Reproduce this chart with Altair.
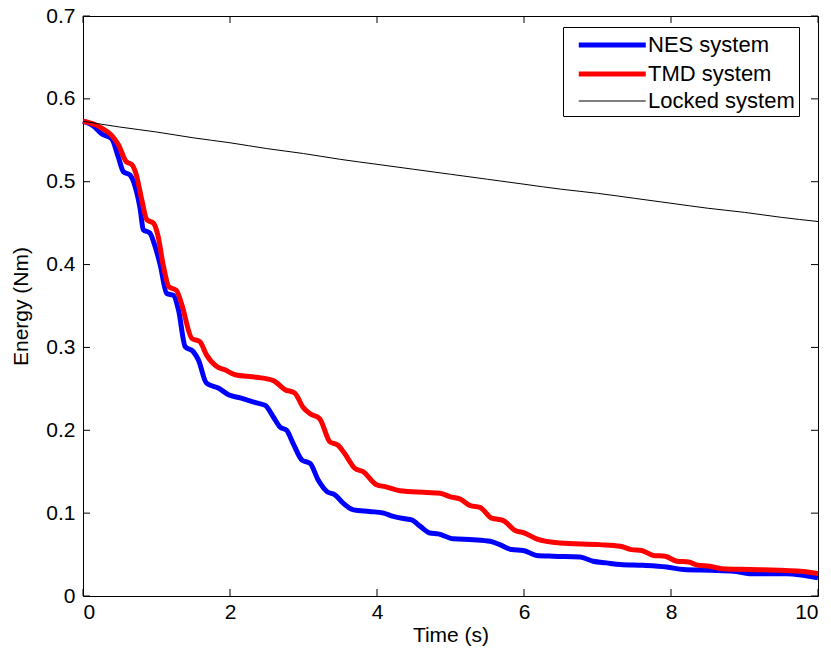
import altair as alt
import pandas as pd

# ---- data ----
t_nes = [0, 0.16, 0.25, 0.39, 0.48, 0.55, 0.64, 0.71, 0.78, 0.82, 0.91, 0.98, 1.05, 1.14, 1.23, 1.30,
         1.39, 1.50, 1.57, 1.68, 1.84, 1.98, 2.14, 2.36, 2.48, 2.59, 2.68, 2.77, 2.86, 2.98, 3.09, 3.20,
         3.32, 3.43, 3.54, 3.68, 3.90, 4.09, 4.22, 4.40, 4.47, 4.59, 4.72, 4.83, 5.04, 5.31, 5.54, 5.67,
         5.83, 5.99, 6.17, 6.40, 6.76, 6.94, 7.12, 7.31, 7.62, 7.94, 8.17, 8.53, 8.85, 9.07, 9.57, 9.80, 10.0]
e_nes = [0.573, 0.566, 0.558, 0.552, 0.530, 0.512, 0.508, 0.494, 0.466, 0.442, 0.438, 0.422, 0.400, 0.365,
         0.363, 0.345, 0.301, 0.295, 0.285, 0.257, 0.251, 0.243, 0.239, 0.233, 0.230, 0.216, 0.204, 0.200,
         0.184, 0.164, 0.160, 0.140, 0.126, 0.122, 0.112, 0.104, 0.102, 0.100, 0.096, 0.093, 0.092, 0.084,
         0.076, 0.075, 0.069, 0.068, 0.066, 0.062, 0.056, 0.055, 0.049, 0.048, 0.047, 0.042, 0.040, 0.038,
         0.037, 0.035, 0.032, 0.031, 0.030, 0.027, 0.027, 0.025, 0.022]

t_tmd = [0, 0.16, 0.25, 0.39, 0.48, 0.59, 0.66, 0.72, 0.80, 0.87, 0.96, 1.02, 1.09, 1.17, 1.27, 1.34,
         1.48, 1.59, 1.68, 1.82, 1.93, 2.07, 2.36, 2.59, 2.75, 2.88, 3.00, 3.09, 3.22, 3.36, 3.47, 3.56,
         3.70, 3.81, 4.00, 4.11, 4.31, 4.68, 4.86, 4.99, 5.13, 5.27, 5.40, 5.56, 5.72, 5.88, 6.01, 6.17,
         6.49, 7.03, 7.31, 7.46, 7.60, 7.76, 7.92, 8.08, 8.24, 8.37, 8.53, 8.69, 9.07, 9.48, 9.76, 10.0]
e_tmd = [0.573, 0.569, 0.565, 0.556, 0.545, 0.524, 0.521, 0.510, 0.478, 0.454, 0.450, 0.435, 0.400, 0.373,
         0.369, 0.353, 0.311, 0.307, 0.291, 0.277, 0.273, 0.267, 0.264, 0.260, 0.249, 0.245, 0.227, 0.220,
         0.214, 0.186, 0.182, 0.172, 0.154, 0.150, 0.134, 0.132, 0.127, 0.125, 0.124, 0.120, 0.117, 0.109,
         0.107, 0.094, 0.091, 0.079, 0.076, 0.069, 0.064, 0.062, 0.060, 0.056, 0.055, 0.049, 0.048, 0.042,
         0.041, 0.037, 0.036, 0.033, 0.032, 0.031, 0.030, 0.027]

t_locked = [0, 0.5, 1, 1.5, 2, 2.5, 3, 3.5, 4, 4.5, 5, 5.5, 6, 6.5, 7, 7.5, 8, 8.5, 9, 9.5, 10]
e_locked = [0.573, 0.566, 0.560, 0.553, 0.547, 0.540, 0.534, 0.527, 0.521, 0.515, 0.509, 0.503, 0.497,
            0.491, 0.486, 0.480, 0.474, 0.468, 0.463, 0.457, 0.452]

series = ["NES system", "TMD system", "Locked system"]
colors = ["#0000ff", "#ff0000", "#000000"]
widths = [5.0, 5.0, 1.0]

x_ticks = [0, 2, 4, 6, 8, 10]
y_ticks = [0, 0.1, 0.2, 0.3, 0.4, 0.5, 0.6, 0.7]

W, H = 735, 580
FONT = "Liberation Sans"
FS = 21

df = pd.concat([
    pd.DataFrame({"t": t_nes, "E": e_nes, "series": series[0]}),
    pd.DataFrame({"t": t_tmd, "E": e_tmd, "series": series[1]}),
    pd.DataFrame({"t": t_locked, "E": e_locked, "series": series[2]}),
], ignore_index=True)

xscale = alt.Scale(domain=[0, 10], nice=False, zero=False)
yscale = alt.Scale(domain=[0, 0.7], nice=False, zero=False)

x_axis = alt.Axis(values=x_ticks, format="d", title="Time (s)", tickSize=0, domain=False,
                  grid=False, labelPadding=5, titlePadding=2)
y_axis = alt.Axis(values=y_ticks, format=".1~f", title="Energy (Nm)", tickSize=0, domain=False,
                  grid=False, labelPadding=8, titlePadding=14)

legend_kw = dict(title=None, orient="none", legendX=480, legendY=11,
                 strokeColor="black", fillColor="white", padding=4,
                 rowPadding=4, labelOffset=53, symbolType="M-0.2,0H5.8",
                 symbolSize=499, labelFontSize=22, labelFont=FONT,
                 labelColor="black", cornerRadius=0)

lines = alt.Chart(df).mark_line(interpolate="monotone", strokeCap="butt", strokeJoin="round").encode(
    x=alt.X("t:Q", scale=xscale, axis=x_axis),
    y=alt.Y("E:Q", scale=yscale, axis=y_axis),
    color=alt.Color("series:N", scale=alt.Scale(domain=series, range=colors),
                    legend=alt.Legend(**legend_kw)),
    strokeWidth=alt.StrokeWidth("series:N",
                                scale=alt.Scale(type="ordinal", domain=series, range=widths),
                                legend=alt.Legend(**legend_kw)),
)

xt = pd.DataFrame({"t": x_ticks})
yt = pd.DataFrame({"E": y_ticks})
tick_style = dict(color="black", strokeWidth=1)

bottom_ticks = alt.Chart(xt).mark_rule(**tick_style).encode(
    x=alt.X("t:Q", scale=xscale), y=alt.value(H), y2=alt.value(H - 7))
top_ticks = alt.Chart(xt).mark_rule(**tick_style).encode(
    x=alt.X("t:Q", scale=xscale), y=alt.value(0), y2=alt.value(7))
left_ticks = alt.Chart(yt).mark_rule(**tick_style).encode(
    y=alt.Y("E:Q", scale=yscale), x=alt.value(0), x2=alt.value(7))
right_ticks = alt.Chart(yt).mark_rule(**tick_style).encode(
    y=alt.Y("E:Q", scale=yscale), x=alt.value(W), x2=alt.value(W - 7))

chart = alt.layer(lines, bottom_ticks, top_ticks, left_ticks, right_ticks).properties(
    width=W, height=H,
    autosize=alt.AutoSizeParams(type="none"),
    padding={"left": 83, "top": 16, "right": 13, "bottom": 62},
    background="white",
).configure_view(stroke="black", strokeWidth=1).configure_axis(
    labelFont=FONT, labelFontSize=FS, labelColor="black",
    titleFont=FONT, titleFontSize=FS, titleFontWeight="normal", titleColor="black",
)

chart.save("out.html", embed_options={"renderer": "svg", "actions": False})
